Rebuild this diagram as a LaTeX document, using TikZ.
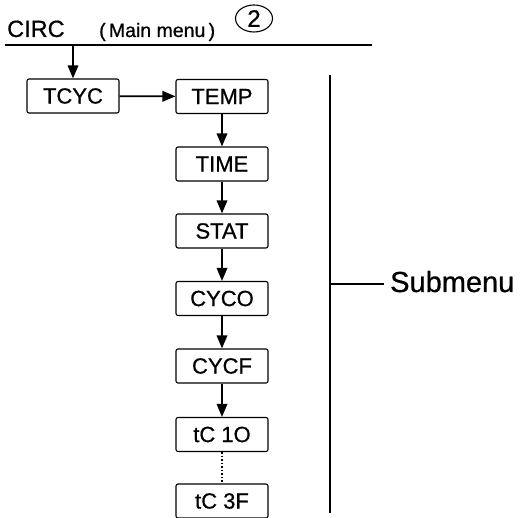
\documentclass[tikz,border=0pt]{standalone}
\usepackage{fontspec}
\setmainfont{Liberation Sans}[FakeBold=0.7]
\usetikzlibrary{arrows.meta,shapes.geometric}
\tikzset{
  menubox/.style={rectangle,draw,rounded corners=2pt,line width=1.1pt,
    minimum width=92pt,minimum height=34pt,inner sep=0pt,
    font=\fontsize{22}{24}\selectfont},
  flow/.style={-{Triangle[length=13pt,width=10.5pt]},line width=1.8pt},
  label/.style={anchor=base west,inner sep=0pt},
}
\begin{document}
\begin{tikzpicture}[x=1pt,y=-1pt]
\useasboundingbox (0,0) rectangle (522,518);
% main menu heading
\node[label,font=\fontsize{23.5}{26}\selectfont] (circ) at (7,37) {CIRC};
\node[label,font=\fontsize{19.5}{22}\selectfont] (main) at (99,37) {(\,Main menu\,)};
\node[ellipse,draw,line width=1.1pt,minimum width=37pt,minimum height=27pt,
  inner sep=0pt,font=\fontsize{24}{26}\selectfont] (num) at (254,18.5) {2};
\coordinate (lineL) at (5,45);
\coordinate (lineR) at (372,45);
\coordinate (drop) at (73,45);
\draw[line width=1.8pt] (lineL) -- (lineR);
% submenu boxes
\node[menubox] (tcyc) at (73,96) {TCYC};
\node[menubox] (temp) at (222,96.5) {TEMP};
\node[menubox] (time) at (222,164) {TIME};
\node[menubox] (stat) at (222,231) {STAT};
\node[menubox] (cyco) at (222,298.5) {CYCO};
\node[menubox] (cycf) at (222,366) {CYCF};
\node[menubox] (tc1o) at (222,434.5) {tC 1O};
\node[menubox] (tc3f) at (222,501) {tC 3F};
    \draw[flow] (drop) -- (tcyc.north);
    \draw[flow] (tcyc) -- (temp);
    \foreach \a/\b in {temp/time,time/stat,stat/cyco,cyco/cycf,cycf/tc1o}
      \draw[flow] (\a) -- (\b);
    \draw[dotted,line width=1.5pt] (tc1o) -- (tc3f);
% submenu bracket
\coordinate (subT) at (330,75);
\coordinate (subB) at (330,513);
\coordinate (subJ) at (330,284);
\node[label,font=\fontsize{29}{32}\selectfont] (submenu) at (390,292) {Submenu};
    \draw[line width=1.8pt] (subT) -- (subB);
    \draw[line width=1.4pt,shorten >=6pt] (subJ) -- (subJ -| submenu.west);
\end{tikzpicture}
\end{document}
